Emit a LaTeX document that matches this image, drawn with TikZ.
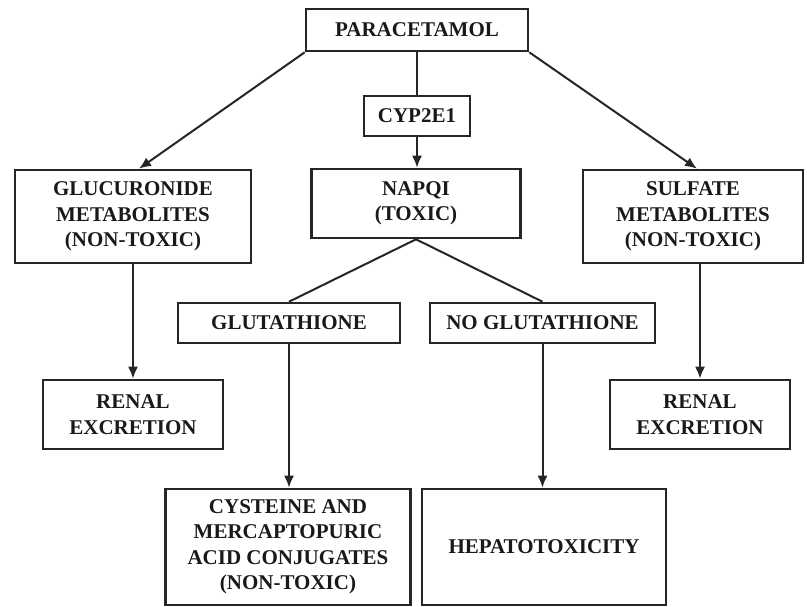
\documentclass[tikz,border=0pt]{standalone}
\usepackage{fontspec}
\setmainfont{Liberation Serif}
\usetikzlibrary{arrows.meta}

\begin{document}
\begin{tikzpicture}[x=1pt,y=-1pt,
    box/.style={draw=black!85, line width=2.6pt, align=center, inner sep=0pt,
      font=\fontsize{21}{25.5}\selectfont\bfseries, text=black!90},
    link/.style={draw=black!85, line width=2pt},
    arr/.style={link, -{Latex[length=12pt,width=10pt]}}]
  \useasboundingbox (0,0) rectangle (807,606);
  % top row
  \node[box, minimum width=222pt, minimum height=42pt] (para) at (417,30) {PARACETAMOL};
  \node[box, minimum width=106pt, minimum height=40pt] (cyp) at (417,116) {CYP2E1};
  % metabolites
  \node[box, minimum width=236pt, minimum height=93pt] (gluc) at (133,216.5) {GLUCURONIDE\\METABOLITES\\(NON-TOXIC)};
  \node[box, minimum width=209pt, minimum height=69pt] (napqi) at (416,203.5) {NAPQI\\(TOXIC)};
  \node[box, minimum width=220pt, minimum height=93pt] (sulf) at (693,216.5) {SULFATE\\METABOLITES\\(NON-TOXIC)};
  % glutathione
  \node[box, minimum width=222pt, minimum height=40pt] (glut) at (289,323) {GLUTATHIONE};
  \node[box, minimum width=225pt, minimum height=40pt] (noglut) at (542.5,323) {NO GLUTATHIONE};
  % excretion and results
  \node[box, minimum width=180pt, minimum height=69pt] (renL) at (133,414.5) {RENAL\\EXCRETION};
  \node[box, minimum width=180pt, minimum height=69pt] (renR) at (700,414.5) {RENAL\\EXCRETION};
  \node[box, minimum width=245pt, minimum height=116pt] (cyst) at (288,547) {CYSTEINE AND\\MERCAPTOPURIC\\ACID CONJUGATES\\(NON-TOXIC)};
  \node[box, minimum width=244pt, minimum height=116pt] (hepa) at (544,547) {HEPATOTOXICITY};

  \draw[arr] (para.south west) -- (gluc.north -| 139,0);
  \draw[arr] (para.south east) -- (sulf.north -| 697,0);
  \draw[link] (para.south -| cyp.north) -- (cyp.north);
  \draw[arr] (cyp.south) -- (napqi.north -| cyp.south);
  \draw[link] (napqi.south) -- (glut.north);
  \draw[link] (napqi.south) -- (noglut.north);
  \draw[arr] (gluc.south -| renL.north) -- (renL.north);
  \draw[arr] (sulf.south -| renR.north) -- (renR.north);
  \draw[arr] (glut.south) -- (cyst.north -| glut.south);
  \draw[arr] (noglut.south) -- (hepa.north -| noglut.south);
\end{tikzpicture}
\end{document}
